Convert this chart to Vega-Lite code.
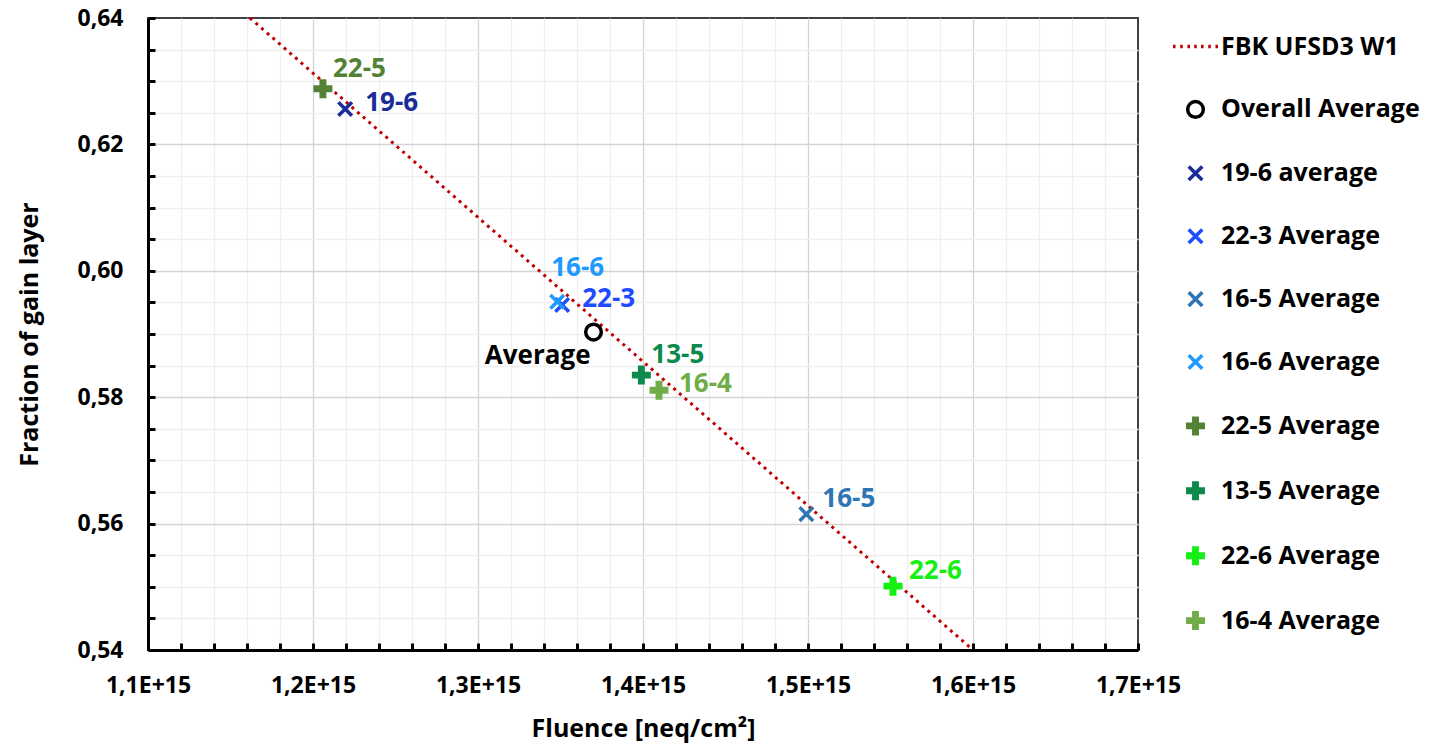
{
  "$schema": "https://vega.github.io/schema/vega-lite/v6.json",
  "width": 990,
  "height": 632,
  "autosize": "none",
  "padding": {"left": 148, "top": 18, "right": 307, "bottom": 94},
  "background": "white",
  "config": {"view": {"stroke": "#404040", "strokeWidth": 2}, "font": "Open Sans"},
  "datasets": {
    "pts": [
      {"series": "Overall Average", "label": "Average", "fluence": 1.370e15, "fraction": 0.5903},
      {"series": "19-6 average", "label": "19-6", "fluence": 1.2195e15, "fraction": 0.6256},
      {"series": "22-3 Average", "label": "22-3", "fluence": 1.351e15, "fraction": 0.5946},
      {"series": "16-5 Average", "label": "16-5", "fluence": 1.499e15, "fraction": 0.5615},
      {"series": "16-6 Average", "label": "16-6", "fluence": 1.348e15, "fraction": 0.5951},
      {"series": "22-5 Average", "label": "22-5", "fluence": 1.206e15, "fraction": 0.6288},
      {"series": "13-5 Average", "label": "13-5", "fluence": 1.399e15, "fraction": 0.5835},
      {"series": "22-6 Average", "label": "22-6", "fluence": 1.5515e15, "fraction": 0.5501},
      {"series": "16-4 Average", "label": "16-4", "fluence": 1.4097e15, "fraction": 0.5811}
    ],
    "fit": [
      {"series": "FBK UFSD3 W1", "fluence": 1.1618e15, "fraction": 0.64},
      {"series": "FBK UFSD3 W1", "fluence": 1.6e15, "fraction": 0.54}
    ]
  },
  "encoding": {
    "x": {
      "field": "fluence", "type": "quantitative",
      "scale": {"domain": [1.1e15, 1.7e15], "nice": false, "zero": false},
      "axis": {
        "values": [1.1e15, 1.12e15, 1.14e15, 1.16e15, 1.18e15, 1.2e15, 1.22e15, 1.24e15, 1.26e15, 1.28e15, 1.3e15, 1.32e15, 1.34e15, 1.36e15, 1.38e15, 1.4e15, 1.42e15, 1.44e15, 1.46e15, 1.48e15, 1.5e15, 1.52e15, 1.54e15, 1.56e15, 1.58e15, 1.6e15, 1.62e15, 1.64e15, 1.66e15, 1.68e15, 1.7e15],
        "title": "Fluence [neq/cm²]",
        "labelExpr": "abs(datum.value/1e14 - round(datum.value/1e14)) < 0.01 ? replace(format(datum.value/1e15, '.1f'), '.', ',') + 'E+15' : ''",
        "grid": true,
        "gridColor": {"condition": {"test": "abs(datum.value/1e14 - round(datum.value/1e14)) < 0.01", "value": "#d4d4d4"}, "value": "#efefef"},
        "gridOpacity": {"condition": {"test": "datum.value > 1.69e15", "value": 0}, "value": 1},
        "gridWidth": 1.3,
        "domainColor": "black", "domainWidth": 3,
        "tickColor": "black", "tickWidth": 3, "tickSize": -7,
        "labelPadding": 31, "labelFontSize": 23, "labelFont": "Open Sans", "labelFontWeight": "bold", "labelColor": "black",
        "labelFlush": false, "labelOverlap": false,
        "titleFontSize": 25, "titleFont": "Open Sans", "titleFontWeight": "bold", "titleColor": "black", "titlePadding": 19
      }
    },
    "y": {
      "field": "fraction", "type": "quantitative",
      "scale": {"domain": [0.54, 0.64], "nice": false, "zero": false},
      "axis": {
        "values": [0.54, 0.545, 0.55, 0.555, 0.56, 0.565, 0.57, 0.575, 0.58, 0.585, 0.59, 0.595, 0.6, 0.605, 0.61, 0.615, 0.62, 0.625, 0.63, 0.635, 0.64],
        "title": "Fraction of gain layer",
        "labelExpr": "abs(datum.value*50 - round(datum.value*50)) < 0.01 ? replace(format(datum.value, '.2f'), '.', ',') : ''",
        "grid": true,
        "gridColor": {"condition": {"test": "abs(datum.value*50 - round(datum.value*50)) < 0.01", "value": "#d4d4d4"}, "value": "#efefef"},
        "gridOpacity": {"condition": {"test": "datum.value > 0.639", "value": 0}, "value": 1},
        "gridWidth": 1.3,
        "domainColor": "black", "domainWidth": 3,
        "tickColor": "black", "tickWidth": 3, "tickSize": -7,
        "labelPadding": 32, "labelFontSize": 23, "labelFont": "Open Sans", "labelFontWeight": "bold", "labelColor": "black",
        "labelFlush": false, "labelOverlap": false,
        "titleFontSize": 25, "titleFont": "Open Sans", "titleFontWeight": "bold", "titleColor": "black", "titlePadding": 34
      }
    }
  },
  "layer": [
    {
      "data": {"name": "fit"},
      "mark": {"type": "line", "color": "#C00000", "strokeWidth": 3, "strokeDash": [3, 4.5]}
    },
    {
      "data": {"name": "pts"},
      "mark": {"type": "point", "strokeWidth": 3.5, "opacity": 1, "size": 289},
      "encoding": {
        "stroke": {
          "field": "series", "type": "nominal",
          "scale": {
            "domain": ["FBK UFSD3 W1", "Overall Average", "19-6 average", "22-3 Average", "16-5 Average", "16-6 Average", "22-5 Average", "13-5 Average", "22-6 Average", "16-4 Average"],
            "range": ["#C00000", "#000000", "#1A2B9A", "#1F4CFF", "#2E75B6", "#1E9AFF", "#548235", "#0B8A4B", "#14F014", "#70AD47"]
          },
          "legend": {"orient": "none", "legendX": 1035, "legendY": 16, "title": null, "symbolSize": 289, "symbolStrokeWidth": 3.5, "labelFontSize": 25, "labelFont": "Open Sans", "labelFontWeight": "bold", "labelColor": "black", "labelOffset": 13, "rowPadding": 33.9, "padding": 0, "labelLimit": 400}
        },
        "fill": {
          "field": "series", "type": "nominal",
          "scale": {
            "domain": ["FBK UFSD3 W1", "Overall Average", "19-6 average", "22-3 Average", "16-5 Average", "16-6 Average", "22-5 Average", "13-5 Average", "22-6 Average", "16-4 Average"],
            "range": ["#C00000", "transparent", "#1A2B9A", "#1F4CFF", "#2E75B6", "#1E9AFF", "#548235", "#0B8A4B", "#14F014", "#70AD47"]
          },
          "legend": {"orient": "none", "legendX": 1035, "legendY": 16, "title": null, "symbolSize": 289, "symbolStrokeWidth": 3.5, "labelFontSize": 25, "labelFont": "Open Sans", "labelFontWeight": "bold", "labelColor": "black", "labelOffset": 13, "rowPadding": 33.9, "padding": 0, "labelLimit": 400}
        },
        "shape": {
          "field": "series", "type": "nominal",
          "scale": {
            "domain": ["FBK UFSD3 W1", "Overall Average", "19-6 average", "22-3 Average", "16-5 Average", "16-6 Average", "22-5 Average", "13-5 Average", "22-6 Average", "16-4 Average"],
            "range": [
              "M-2.65,0h0.3M-1.8,0h0.3M-0.95,0h0.3M-0.15,0h0.3M0.65,0h0.3M1.5,0h0.3M2.35,0h0.3",
              "M-0.92,0A0.92,0.92,0,1,1,0.92,0A0.92,0.92,0,1,1,-0.92,0Z",
              "M-0.8,-0.8L0.8,0.8M-0.8,0.8L0.8,-0.8",
              "M-0.8,-0.8L0.8,0.8M-0.8,0.8L0.8,-0.8",
              "M-0.8,-0.8L0.8,0.8M-0.8,0.8L0.8,-0.8",
              "M-0.8,-0.8L0.8,0.8M-0.8,0.8L0.8,-0.8",
              "M-0.2,-0.91H0.2V-0.2H0.91V0.2H0.2V0.91H-0.2V0.2H-0.91V-0.2H-0.2Z",
              "M-0.2,-0.91H0.2V-0.2H0.91V0.2H0.2V0.91H-0.2V0.2H-0.91V-0.2H-0.2Z",
              "M-0.2,-0.91H0.2V-0.2H0.91V0.2H0.2V0.91H-0.2V0.2H-0.91V-0.2H-0.2Z",
              "M-0.2,-0.91H0.2V-0.2H0.91V0.2H0.2V0.91H-0.2V0.2H-0.91V-0.2H-0.2Z"
            ]
          },
          "legend": {"orient": "none", "legendX": 1035, "legendY": 16, "title": null, "symbolSize": 289, "symbolStrokeWidth": 3.5, "labelFontSize": 25, "labelFont": "Open Sans", "labelFontWeight": "bold", "labelColor": "black", "labelOffset": 13, "rowPadding": 33.9, "padding": 0, "labelLimit": 400}
        }
      }
    },
    {
      "data": {"name": "pts"},
      "transform": [{"filter": {"field": "label", "oneOf": ["22-5", "13-5"]}}],
      "mark": {"type": "text", "align": "left", "baseline": "middle", "dx": 10, "dy": -20, "font": "Open Sans", "fontWeight": "bold", "fontSize": 26},
      "encoding": {"text": {"field": "label"}, "color": {"field": "series", "type": "nominal", "legend": null, "scale": {"domain": ["Overall Average", "19-6 average", "22-3 Average", "16-5 Average", "16-6 Average", "22-5 Average", "13-5 Average", "22-6 Average", "16-4 Average"], "range": ["#000000", "#1A2B9A", "#1F4CFF", "#2E75B6", "#1E9AFF", "#548235", "#0B8A4B", "#14F014", "#70AD47"]}}}
    },
    {
      "data": {"name": "pts"},
      "transform": [{"filter": {"field": "label", "oneOf": ["16-5", "22-6"]}}],
      "mark": {"type": "text", "align": "left", "baseline": "middle", "dx": 16, "dy": -15, "font": "Open Sans", "fontWeight": "bold", "fontSize": 26},
      "encoding": {"text": {"field": "label"}, "color": {"field": "series", "type": "nominal", "legend": null}}
    },
    {
      "data": {"name": "pts"},
      "transform": [{"filter": {"field": "label", "oneOf": ["19-6", "22-3", "16-4"]}}],
      "mark": {"type": "text", "align": "left", "baseline": "middle", "dx": 20, "dy": -6, "font": "Open Sans", "fontWeight": "bold", "fontSize": 26},
      "encoding": {"text": {"field": "label"}, "color": {"field": "series", "type": "nominal", "legend": null}}
    },
    {
      "data": {"name": "pts"},
      "transform": [{"filter": {"field": "label", "equal": "16-6"}}],
      "mark": {"type": "text", "align": "left", "baseline": "middle", "dx": -6, "dy": -34, "font": "Open Sans", "fontWeight": "bold", "fontSize": 26},
      "encoding": {"text": {"field": "label"}, "color": {"field": "series", "type": "nominal", "legend": null}}
    },
    {
      "data": {"name": "pts"},
      "transform": [{"filter": {"field": "label", "equal": "Average"}}],
      "mark": {"type": "text", "align": "right", "baseline": "middle", "dx": -3, "dy": 24, "font": "Open Sans", "fontWeight": "bold", "fontSize": 26},
      "encoding": {"text": {"field": "label"}, "color": {"field": "series", "type": "nominal", "legend": null}}
    }
  ]
}
